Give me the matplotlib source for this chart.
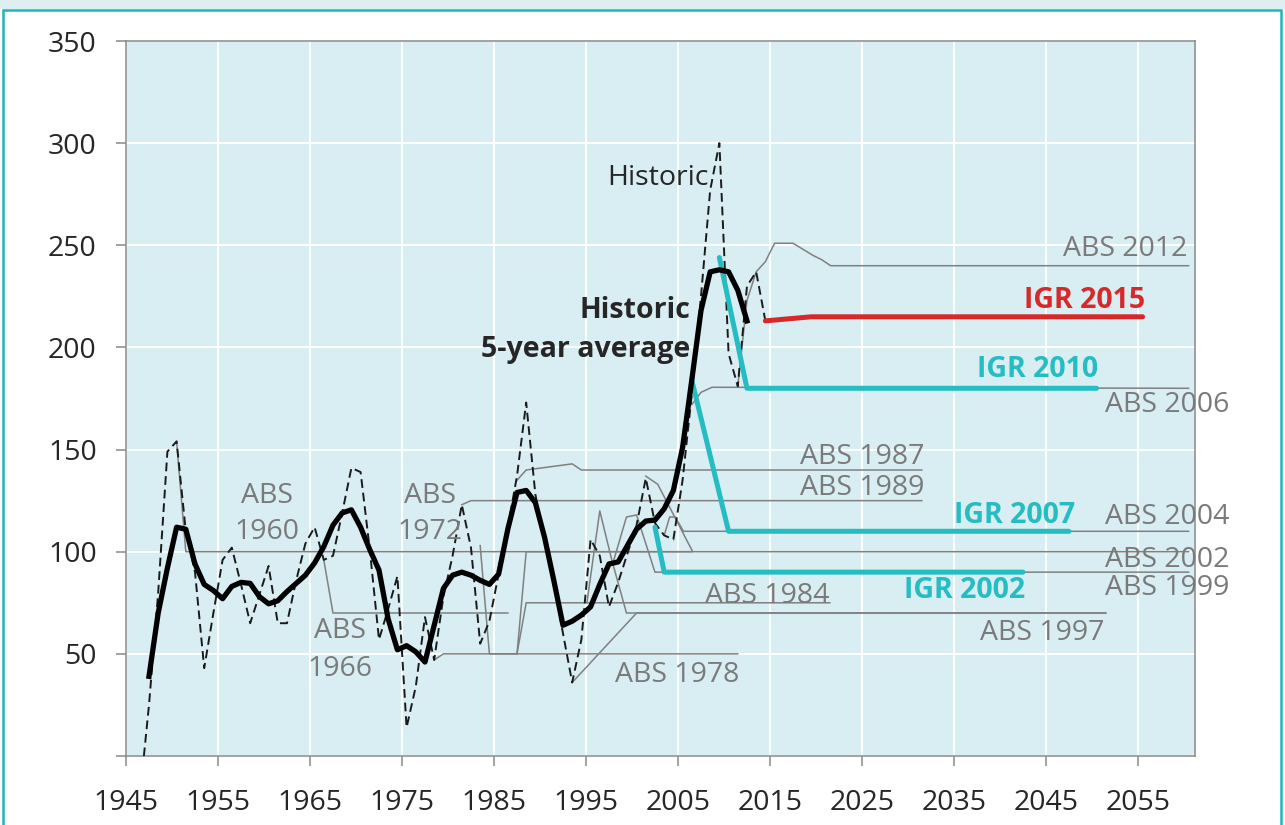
import numpy as np
import matplotlib.pyplot as plt
from matplotlib.patches import Rectangle

plt.rcParams['font.family'] = ['Open Sans', 'DejaVu Sans']

# Net overseas migration ('000), financial years -> plotted mid-year
hist_years = list(range(1946, 2015))
hist_values = [-20, 25, 80, 149, 154, 110, 90, 43, 70, 96,
               102, 84, 65, 79, 93, 65, 65, 86, 104, 112,
               96, 98, 119, 141, 139, 101, 57, 72, 88, 14,
               34, 68, 47, 78, 98, 123, 102, 55, 66, 89,
               112, 137, 173, 128, 105, 85, 60, 36, 57, 106,
               98, 73, 85, 99, 113, 136, 114, 108, 106, 135,
               177, 225, 277, 300, 197, 181, 230, 237, 213]

avg_years = list(range(1947, 2013))
avg_values = [39, 70, 92, 112, 111, 94, 84, 81, 77, 83,
              85, 84.5, 78, 74.5, 76, 80.5, 84.5, 88.5, 94.5, 102.5,
              113, 119, 120.5, 112, 101, 91, 67, 52, 54, 51,
              46, 64, 82, 88.5, 90, 88.5, 86, 84, 89, 111,
              129, 130, 124, 107, 86, 64, 66, 69, 73, 84,
              94, 95, 103, 111, 115, 115.5, 121, 130, 151, 184,
              218, 237, 238, 237, 228, 213]

# ABS projections (grey)
abs_lines = {
    'ABS 1960': ([1950, 1951, 2006], [154, 100, 100]),
    'ABS 1966': ([1966, 1967, 1986], [96, 70, 70]),
    'ABS 1972': ([1987, 1988, 2006], [50, 100, 100]),
    'ABS 1978': ([1978, 1979, 2011], [47, 50, 50]),
    'ABS 1984': ([1983, 1984, 1987, 1988, 2021], [103, 50, 50, 75, 75]),
    'ABS 1987': ([1987, 1988, 1993, 1994, 2031], [135, 140, 143, 140, 140]),
    'ABS 1989': ([1981, 1982, 2031], [123, 125, 125]),
    'ABS 1993': ([1993, 2000, 2051], [36, 70, 70]),
    'ABS 1997': ([1994.6, 1996, 1997.3, 1998.9, 2051], [75, 120, 96, 70, 70]),
    'ABS 1999': ([1997.4, 1998.9, 2000, 2002, 2060], [94, 117, 118, 90, 90]),
    'ABS 2002': ([2001, 2002.3, 2006.1, 2060], [137, 133, 100, 100]),
    'ABS 2004': ([2003, 2003.6, 2004.2, 2005.1, 2060], [108, 117, 117, 110, 110]),
    'ABS 2006': ([2006, 2007, 2008.2, 2060], [172, 178, 180.5, 180]),
    'ABS 2012': ([2011, 2012, 2013, 2014, 2015, 2017, 2019.2, 2020.1, 2021.1, 2060],
                 [181, 223, 237, 242, 251, 251, 245, 243, 240, 240]),
}

# Intergenerational Report assumptions
igr_2002 = ([2002, 2003, 2042], [112, 90, 90])
igr_2007 = ([2006, 2010, 2047], [184, 110, 110])
igr_2010 = ([2009, 2012, 2050], [244, 180, 180])
igr_2015 = ([2014, 2019, 2055], [213, 215, 215])

TEAL = '#25bcc2'
RED = '#d7282a'
GREY = '#808080'
mid = 0.5

fig = plt.figure(figsize=(12.85, 8.25), dpi=100)
ax = fig.add_axes([126 / 1285, 1 - 756 / 825, (1195 - 126) / 1285, (756 - 41) / 825])
ax.set_facecolor('#d8eef3')

for name, (yrs, vals) in abs_lines.items():
    ax.plot(np.array(yrs) + mid, vals, color=GREY, lw=1.1, zorder=2)

ax.plot(np.array(hist_years) + mid, hist_values, color='#1a1a1a', lw=1.4,
        dashes=(4.5, 2.5), zorder=3)

for yrs, vals in [igr_2002, igr_2007, igr_2010]:
    ax.plot(np.array(yrs) + mid, vals, color=TEAL, lw=3.6, solid_capstyle='round', zorder=4)
ax.plot(np.array(igr_2015[0]) + mid, igr_2015[1], color=RED, lw=3.6,
        solid_capstyle='round', zorder=4)

ax.plot(np.array(avg_years) + mid, avg_values, color='black', lw=3.8, zorder=5)

ax.set_xlim(1945, 2061.2)
ax.set_ylim(0, 350)
ax.set_xticks(np.arange(1945, 2056, 10))
yt = np.arange(0, 351, 50)
ax.set_yticks(yt)
ax.set_yticklabels([''] + [str(v) for v in yt[1:]])
ax.tick_params(direction='out', length=7, width=1.1, color='#898989',
               labelsize=20.5, labelcolor='#262626')
ax.tick_params(axis='y', pad=14)
ax.tick_params(axis='x', pad=17)
ax.grid(True, color='white', lw=1.4)
ax.set_axisbelow(True)
for s in ax.spines.values():
    s.set_color('#898989')
    s.set_linewidth(1.1)

fs = 20.5
# line labels
ax.text(2008.3, 283, 'Historic', ha='right', va='center', fontsize=fs, color='#262626')
ax.text(2006.3, 218, 'Historic', ha='right', va='center', fontsize=fs,
        fontweight='bold', color='#262626')
ax.text(2006.3, 199, '5-year average', ha='right', va='center', fontsize=fs,
        fontweight='bold', color='#262626')

ax.text(2055.8, 223, 'IGR 2015', ha='right', va='center', fontsize=fs, fontweight='bold', color=RED)
ax.text(2050.7, 189, 'IGR 2010', ha='right', va='center', fontsize=fs, fontweight='bold', color=TEAL)
ax.text(2048.2, 117.5, 'IGR 2007', ha='right', va='center', fontsize=fs, fontweight='bold', color=TEAL)
ax.text(2042.7, 81, 'IGR 2002', ha='right', va='center', fontsize=fs, fontweight='bold', color=TEAL)

grey_txt = dict(fontsize=fs, color='#7a7a7a', va='center', clip_on=False)
ax.text(2060.4, 248, 'ABS 2012', ha='right', **grey_txt)
ax.text(2051.4, 172, 'ABS 2006', ha='left', **grey_txt)
ax.text(2031.8, 146.5, 'ABS 1987', ha='right', **grey_txt)
ax.text(2031.8, 131, 'ABS 1989', ha='right', **grey_txt)
ax.text(2051.4, 117, 'ABS 2004', ha='left', **grey_txt)
ax.text(2051.4, 96, 'ABS 2002', ha='left', **grey_txt)
ax.text(2051.4, 82, 'ABS 1999', ha='left', **grey_txt)
ax.text(2021.5, 78.5, 'ABS 1984', ha='right', **grey_txt)
ax.text(2051.4, 60, 'ABS 1997', ha='right', **grey_txt)
ax.text(2011.7, 39.5, 'ABS 1978', ha='right', **grey_txt)
ax.text(1960.3, 127.5, 'ABS', ha='center', **grey_txt)
ax.text(1960.3, 109.5, '1960', ha='center', **grey_txt)
ax.text(1978.0, 127.5, 'ABS', ha='center', **grey_txt)
ax.text(1978.0, 109.5, '1972', ha='center', **grey_txt)
ax.text(1968.3, 61, 'ABS', ha='center', **grey_txt)
ax.text(1968.3, 42.5, '1966', ha='center', **grey_txt)

# panel frame
fig.patches.append(Rectangle((0, 1 - 9 / 825), 1, 9 / 825, transform=fig.transFigure,
                             facecolor='#dfeef1', edgecolor='none', zorder=0))
fig.patches.append(Rectangle((3 / 1285, -0.05), 1278 / 1285, 1.05 - 10 / 825,
                             transform=fig.transFigure, facecolor='none',
                             edgecolor='#1fb5bd', lw=1.8, zorder=1))

fig.savefig('out.png', dpi=100)
